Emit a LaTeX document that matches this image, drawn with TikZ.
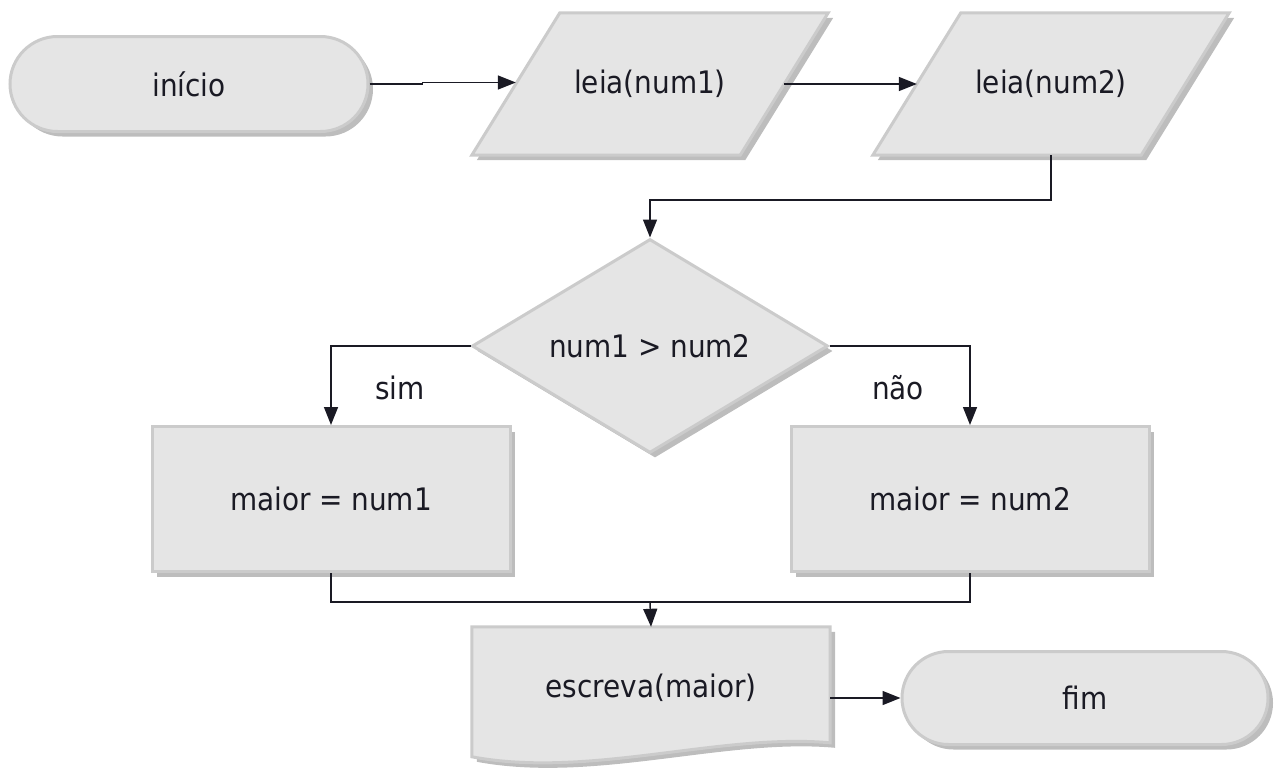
\documentclass[tikz,border=0pt]{standalone}
\usepackage{fontspec}
\setmainfont{DejaVu Sans Condensed}
\usetikzlibrary{arrows.meta,calc,shapes.geometric,shapes.misc,shadows,backgrounds}

\definecolor{shapefill}{HTML}{E5E5E5}
\definecolor{shapeline}{HTML}{CBCBCB}
\definecolor{shadowc}{HTML}{BDBDBD}
\definecolor{ink}{HTML}{1A1A24}

\tikzset{
  flowbox/.style={fill=shapefill, draw=shapeline, line width=3pt, text=ink,
    font=\fontsize{31}{36}\selectfont, inner sep=0pt,
    drop shadow={shadow xshift=5pt, shadow yshift=-5pt, fill=shadowc, opacity=1}},
  terminal/.style={flowbox, rounded rectangle, minimum width=358pt, minimum height=95pt},
  procbox/.style={flowbox, rectangle, minimum width=358pt, minimum height=145pt},
  decision/.style={flowbox, diamond, aspect=1.66, minimum width=356pt, minimum height=214pt},
  label/.style={text=ink, font=\fontsize{31}{36}\selectfont, inner sep=0pt},
  % text holder of a parallelogram: its width is the width at mid height
  iotext/.style={label, minimum width=268pt, minimum height=142pt},
  link/.style={draw=ink, line width=1.5pt},
  arrow/.style={link, -{Triangle[length=18pt,width=14pt]}}
}
% draw the slanted input box around a text holder
\newcommand{\ioshape}[1]{%
  \begin{scope}[on background layer]
    \path[flowbox] ($(#1.north west)+(44,0)$) -- ($(#1.north east)+(44,0)$)
      -- ($(#1.south east)+(-44,0)$) -- ($(#1.south west)+(-44,0)$) -- cycle;
  \end{scope}}

\begin{document}
\begin{tikzpicture}[x=1pt, y=-1pt]
  \useasboundingbox (0,0) rectangle (1277,771);

  % start, inputs
  \node[terminal] (ini) at (189,84) {início};
  \node[iotext] (p1) at (650,84) {leia(num1)};
  \ioshape{p1}
  \node[iotext] (p2) at (1051,84) {leia(num2)};
  \ioshape{p2}

  % decision and branches
  \node[decision] (dec) at (650,346) {num1 > num2};
  \node[procbox] (b1) at (331,499) {maior = num1};
  \node[procbox] (b2) at (970,499) {maior = num2};
  \node[label] (sim) at (400,388) {sim};
  \node[label] (nao) at (898,388) {não};

  % output document and end
  \node[label] (out) at (651,688) [minimum width=358pt, minimum height=122pt] {escreva(maior)};
  \begin{scope}[on background layer]
    \path[flowbox] (out.north west) -- (out.north east) -- ($(out.north east)+(0,116)$)
      .. controls ($(out.north east)+(-110,106)$) and ($(out.north west)+(118,152)$)
      .. ($(out.north west)+(0,130)$) -- cycle;
  \end{scope}
  \node[terminal] (fim) at (1085,698) [minimum width=366pt, minimum height=93pt] {fim};

  % connectors
  \draw[arrow] (ini.east) -- ++(53,0) -- ++(0,-1.5) -- ($(p1.west)+(0,-1.5)$);
  \draw[arrow] (p1.east) -- (p2.west);
  \coordinate (turn) at (650,200);
  \draw[arrow] (p2.south) -- (p2.south |- turn) -- (turn) -- (dec.north);
  \draw[arrow] (dec.west) -| (b1.north);
  \draw[arrow] (dec.east) -| (b2.north);
  \coordinate (join) at (650,602);
  \draw[link] (b1.south) |- (join) -| (b2.south);
  \draw[arrow] (join) -- (out.north);
  \draw[arrow] (out.east |- fim.west) -- (fim.west);
\end{tikzpicture}
\end{document}
